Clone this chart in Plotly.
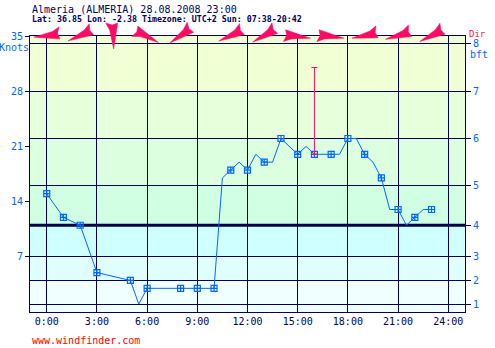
import math
import plotly.graph_objects as go

# ---------------- data ----------------
title_text = "Almeria (ALMERIA) 28.08.2008 23:00"
subtitle_text = "Lat: 36.85 Lon: -2.38 Timezone: UTC+2 Sun: 07:38-20:42"
footer_text = "www.windfinder.com"

line_hours = [0, 1, 2, 3, 5, 5.5, 6, 8, 9, 10, 10.5, 11, 11.5, 12, 12.5, 13, 13.5, 14,
              15, 15.5, 16, 17, 17.5, 18, 18.5, 19, 19.5, 20, 20.5, 21, 21.5, 22, 22.5, 23]
line_knots = [15, 12, 11, 5, 4, 1, 3, 3, 3, 3, 17, 18, 19, 18, 20, 19, 19, 22,
              20, 21, 20, 20, 20, 22, 22, 20, 19, 17, 13, 13, 11, 12, 13, 13]

obs_hours = [0, 1, 2, 3, 5, 6, 8, 9, 10, 11, 12, 13, 14, 15, 16, 17, 18, 19, 20, 21, 22, 23]
obs_knots = [15, 12, 11, 5, 4, 3, 3, 3, 3, 18, 18, 19, 22, 20, 20, 20, 22, 20, 17, 13, 12, 13]

gust_hours = [16]
gust_knots = [31]

dir_hours = [0, 2, 4, 6, 8, 11, 13, 15, 17, 19, 21, 23]
dir_from_deg = [85, 68, 0, 300, 57, 67, 62, 280, 280, 80, 75, 65]

x_tick_hours = [0, 3, 6, 9, 12, 15, 18, 21, 24]
x_tick_labels = ["0:00", "3:00", "6:00", "9:00", "12:00", "15:00", "18:00", "21:00", "24:00"]

knots_ticks = [7, 14, 21, 28, 35]
knots_labels = ["7", "14", "21", "28", "35"]

bft_knots = [1, 4, 7, 11, 16, 22, 28, 34]
bft_labels = ["1", "2", "3", "4", "5", "6", "7", "8"]

band_edges = [0, 4, 7, 11, 16, 22, 28, 35]
band_colors = ["#f0ffff", "#e0ffff", "#d0ffff", "#d0ffe4", "#dcffe0", "#e8ffdc", "#f0ffd4"]

# ---------------- style ----------------
NAVY = "#00005a"
BLUE = "#0066ff"
PINK = "#ff0a64"
FONT = "DejaVu Sans Mono"

fig = go.Figure()

fig.add_trace(go.Scatter(x=line_hours, y=line_knots, mode="lines",
                         line=dict(color=BLUE, width=1), hoverinfo="skip"))
fig.add_trace(go.Scatter(x=obs_hours, y=obs_knots, mode="markers",
                         marker=dict(symbol="square-cross-open", size=6, color=BLUE,
                                     line=dict(color=BLUE, width=1.2))))
base = [obs_knots[obs_hours.index(h)] for h in gust_hours]
fig.add_trace(go.Scatter(x=gust_hours, y=base, mode="markers",
                         marker=dict(size=0.1, color=PINK),
                         error_y=dict(type="data", symmetric=False,
                                      array=[g - b for g, b in zip(gust_knots, base)],
                                      arrayminus=[0] * len(gust_hours),
                                      color=PINK, thickness=1, width=3)))
fig.add_trace(go.Scatter(x=[None], y=[None], yaxis="y2", showlegend=False))

shapes = []
for lo, hi, c in zip(band_edges[:-1], band_edges[1:], band_colors):
    shapes.append(dict(type="rect", xref="paper", yref="y", x0=0, x1=1, y0=lo, y1=hi,
                       fillcolor=c, line=dict(width=0), layer="below"))
shapes.append(dict(type="line", xref="paper", yref="y", x0=0, x1=1,
                   y0=bft_knots[3], y1=bft_knots[3], line=dict(color="#000040", width=3),
                   layer="between"))

dart = [(13, 0), (-6, 4), (-13, 8), (-11, 1.5), (-13, -4), (-6, -3)]
for h, d in zip(dir_hours, dir_from_deg):
    b = math.radians((d + 180) % 360)
    ux, uy = math.sin(b), math.cos(b)
    rx, ry = math.cos(b), -math.sin(b)
    pts = [(a * ux + c * rx, a * uy + c * ry) for a, c in dart]
    path = "M " + " L ".join(f"{px:.2f},{py_:.2f}" for px, py_ in pts) + " Z"
    shapes.append(dict(type="path", xref="x", yref="paper", xsizemode="pixel",
                       ysizemode="pixel", xanchor=h, yanchor=1.0, path=path,
                       fillcolor=PINK, line=dict(color=PINK, width=0.5), layer="above"))

H = 348 - 36 - 36


def py(pix):
    return (312 - pix) / H


annotations = [
    dict(text=title_text, xref="paper", yref="paper", x=0, y=py(9), xanchor="left",
         yanchor="middle", showarrow=False, font=dict(family=FONT, size=10, color=NAVY)),
    dict(text="<b>" + subtitle_text + "</b>", xref="paper", yref="paper", x=0, y=py(19),
         xanchor="left", yanchor="middle", showarrow=False,
         font=dict(family=FONT, size=8.3, color=NAVY)),
    dict(text="Knots", xref="paper", yref="paper", x=0, xshift=1, y=py(48), xanchor="right",
         yanchor="middle", showarrow=False, font=dict(family=FONT, size=10, color=BLUE)),
    dict(text="Dir", xref="paper", yref="paper", x=1, xshift=3, y=py(34), xanchor="left",
         yanchor="middle", showarrow=False, borderpad=0,
         font=dict(family=FONT, size=9, color=PINK)),
    dict(text="bft", xref="paper", yref="paper", x=1, xshift=3, y=py(55), xanchor="left",
         yanchor="middle", showarrow=False, font=dict(family=FONT, size=10, color=BLUE)),
    dict(text=footer_text, xref="paper", yref="paper", x=0, y=py(340), xanchor="left",
         yanchor="middle", showarrow=False, font=dict(family=FONT, size=10, color="#ff0000")),
]

fig.update_layout(
    width=495, height=348,
    margin=dict(l=30, r=30, t=36, b=36, autoexpand=False),
    paper_bgcolor="white", plot_bgcolor="white",
    showlegend=False,
    shapes=shapes,
    annotations=annotations,
    xaxis=dict(range=[-1, 25], tickvals=x_tick_hours, ticktext=x_tick_labels,
               showgrid=True, gridcolor=NAVY, gridwidth=1, zeroline=False,
               showline=True, linecolor=NAVY, linewidth=1, mirror=True, automargin=False,
               ticks="", tickfont=dict(family=FONT, size=10, color=NAVY)),
    yaxis=dict(range=[0, 35], tickvals=knots_ticks, ticktext=knots_labels,
               showgrid=False, zeroline=False, showline=True, linecolor=NAVY, automargin=False,
               ticks="outside", ticklen=4, tickcolor=NAVY,
               tickfont=dict(family=FONT, size=10, color=BLUE)),
    yaxis2=dict(range=[0, 35], overlaying="y", side="right", tickvals=bft_knots,
                ticktext=bft_labels, showgrid=True, gridcolor=NAVY, gridwidth=1, automargin=False,
                zeroline=False, showline=True, linecolor=NAVY, ticks="outside",
                ticklen=5, tickcolor=NAVY, tickfont=dict(family=FONT, size=10, color=BLUE)),
)

fig.write_html("out.html", config={"displayModeBar": False},
               post_script="document.body.style.margin='0';document.body.style.padding='0';")
